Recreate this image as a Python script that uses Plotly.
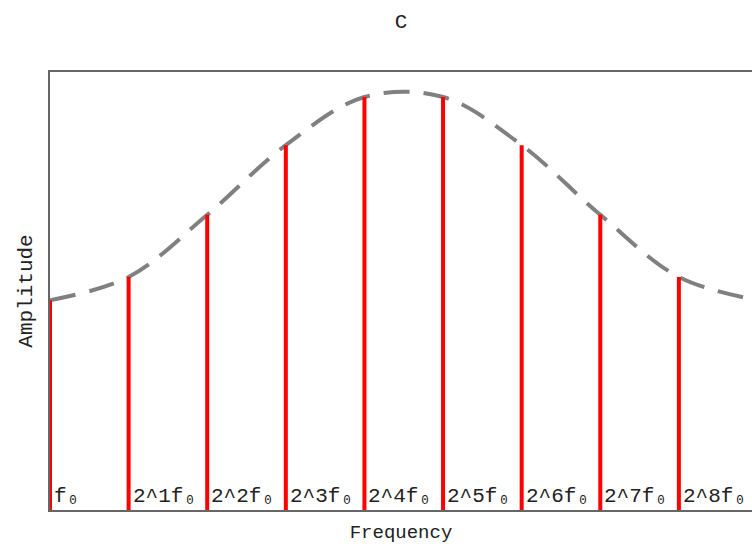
import plotly.graph_objects as go

# Harmonic positions (octave index) and their amplitudes
harmonic_idx = [0, 1, 2, 3, 4, 5, 6, 7, 8]
harmonic_amp = [0.479, 0.532, 0.674, 0.833, 0.943, 0.943, 0.833, 0.674, 0.532]
harmonic_labels = ["f\u2080", "2^1f\u2080", "2^2f\u2080", "2^3f\u2080", "2^4f\u2080",
                   "2^5f\u2080", "2^6f\u2080", "2^7f\u2080", "2^8f\u2080"]

# Spectral envelope samples
env_x = [0, 1, 2, 3, 4, 5, 6, 7, 8, 9]
env_y = [0.479, 0.532, 0.674, 0.833, 0.943, 0.943, 0.833, 0.674, 0.532, 0.479]

FONT = "Liberation Mono, Courier New, monospace"

fig = go.Figure()

# Envelope (dashed gray)
fig.add_trace(go.Scatter(
    x=env_x, y=env_y, mode="lines",
    line=dict(color="#808080", width=4, dash="26px,14px", shape="spline", smoothing=1.0),
    hoverinfo="skip", showlegend=False,
))

# Stems for each harmonic
for xi, yi in zip(harmonic_idx, harmonic_amp):
    fig.add_trace(go.Scatter(
        x=[xi, xi], y=[0, yi], mode="lines",
        line=dict(color="#ff0000", width=4),
        hoverinfo="skip", showlegend=False,
    ))

# Harmonic labels at the foot of each stem
for xi, lab in zip(harmonic_idx, harmonic_labels):
    fig.add_annotation(
        x=xi, y=0, text=lab, showarrow=False,
        xanchor="left", yanchor="bottom", xshift=2, yshift=0,
        font=dict(family=FONT, size=21, color="#222"),
    )

fig.update_layout(
    width=752, height=546,
    margin=dict(l=50, r=0, t=72, b=36),
    paper_bgcolor="white", plot_bgcolor="white",
    title=dict(text="C", x=0.5, xref="paper", y=0.963, yanchor="middle",
               font=dict(family=FONT, size=21, color="#222")),
    font=dict(family=FONT, color="#222"),
)
fig.update_xaxes(
    range=[0, 8.93], showgrid=False, zeroline=False, showticklabels=False, ticks="",
    showline=True, linecolor="#666", linewidth=1.5, mirror=True,
    title=dict(text="Frequency", font=dict(family=FONT, size=19), standoff=14),
)
fig.update_yaxes(
    range=[0, 1], showgrid=False, zeroline=False, showticklabels=False, ticks="",
    showline=True, linecolor="#666", linewidth=1.5, mirror=False,
    title=dict(text="Amplitude", font=dict(family=FONT, size=21), standoff=10),
)

fig.write_html("out.html")
